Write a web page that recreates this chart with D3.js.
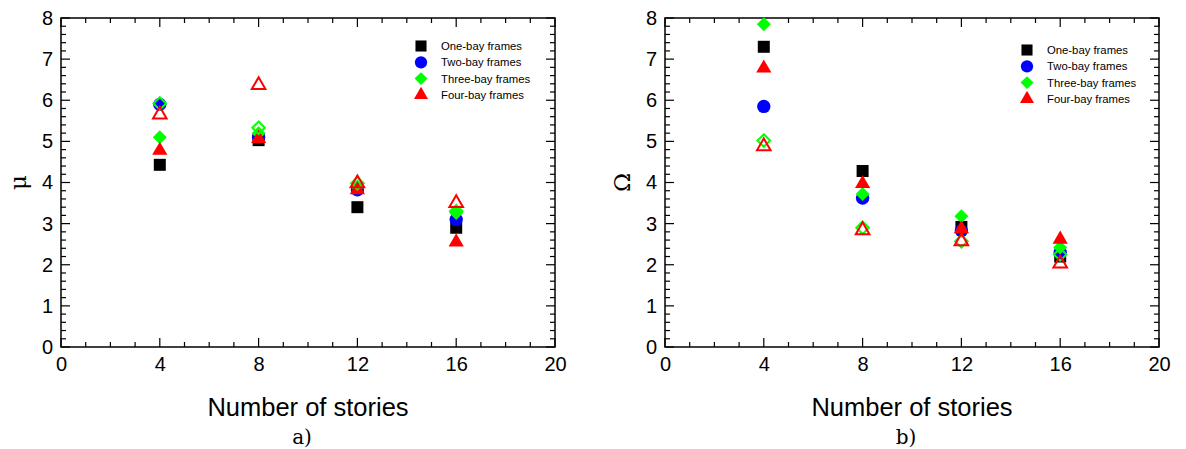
<!DOCTYPE html>
<html>
<head>
<meta charset="utf-8">
<script src="https://cdn.jsdelivr.net/npm/d3@7"></script>
<style>
  body { margin: 0; background: #fff; }
  svg { display: block; font-family: "Liberation Sans", Arial, sans-serif; }
</style>
</head>
<body>
<svg id="chart" width="1186" height="449"></svg>
<script>
// *************** DATA ***************
const stories = [4, 8, 12, 16];
const seriesNames = ["One-bay frames", "Two-bay frames", "Three-bay frames", "Four-bay frames"];
const xTicks = [0, 4, 8, 12, 16, 20];
const yTicks = [0, 1, 2, 3, 4, 5, 6, 7, 8];

// panel a) ductility factor mu
const muOneBay   = [4.43, 5.03, 3.40, 2.90];
const muTwoBay   = [5.90, 5.10, 3.82, 3.10];
const muThreeBay = [5.10, 5.20, 3.90, 3.26];
const muFourBay  = [4.78, 5.07, 3.82, 2.55];
const muThreeBayOpen = [5.92, 5.33, 3.98, 3.30];
const muFourBayOpen  = [5.65, 6.37, 3.98, 3.50];

// panel b) overstrength factor Omega
const omOneBay   = [7.30, 4.28, 2.92, 2.20];
const omTwoBay   = [5.85, 3.62, 2.83, 2.30];
const omThreeBay = [7.85, 3.72, 3.18, 2.42];
const omFourBay  = [6.78, 3.97, 2.87, 2.62];
const omThreeBayOpen = [5.02, 2.90, 2.57, 2.25];
const omFourBayOpen  = [4.88, 2.84, 2.57, 2.03];

// *************** STYLE ***************
const markers = [
  { type: d3.symbolSquare,   size: 144, color: "#000000" },
  { type: d3.symbolCircle,   size: 140, color: "#0000ff" },
  { type: d3.symbolDiamond2, size: 125, color: "#00ff00" },
  { type: d3.symbolTriangle, size: 100, color: "#ff0000" }
];

const svg = d3.select("#chart");

const panels = [
  { left: 61,  yLabel: "μ", tag: "a)", legendX: 421, legendY: 46,
    filled: [muOneBay, muTwoBay, muThreeBay, muFourBay],
    open: [[2, muThreeBayOpen], [3, muFourBayOpen]] },
  { left: 665, yLabel: "Ω", tag: "b)", legendX: 1027, legendY: 50,
    filled: [omOneBay, omTwoBay, omThreeBay, omFourBay],
    open: [[2, omThreeBayOpen], [3, omFourBayOpen]] }
];

const plotW = 494, plotTop = 18, plotBottom = 347;

panels.forEach(p => {
  const g = svg.append("g");
  const x = d3.scaleLinear().domain([0, 20]).range([p.left, p.left + plotW]);
  const y = d3.scaleLinear().domain([0, 8]).range([plotBottom, plotTop]);

  // minor + major ticks, all four sides, inward
  const minorX = d3.range(0, 21, 1), minorY = d3.range(0, 8.01, 0.2);
  const tickG = g.append("g").attr("stroke", "#000").attr("stroke-width", 1.2);
  minorX.forEach(v => {
    const len = v % 4 === 0 ? 9 : 5;
    tickG.append("line").attr("x1", x(v)).attr("x2", x(v)).attr("y1", plotBottom).attr("y2", plotBottom - len);
    tickG.append("line").attr("x1", x(v)).attr("x2", x(v)).attr("y1", plotTop).attr("y2", plotTop + len);
  });
  minorY.forEach(v => {
    const len = Math.abs(v - Math.round(v)) < 1e-6 ? 9 : 5;
    tickG.append("line").attr("x1", p.left).attr("x2", p.left + len).attr("y1", y(v)).attr("y2", y(v));
    tickG.append("line").attr("x1", p.left + plotW).attr("x2", p.left + plotW - len).attr("y1", y(v)).attr("y2", y(v));
  });

  // frame
  g.append("rect")
   .attr("x", p.left).attr("y", plotTop)
   .attr("width", plotW).attr("height", plotBottom - plotTop)
   .attr("fill", "none").attr("stroke", "#000").attr("stroke-width", 1.5);

  // tick labels through axes (lines hidden)
  const xAxis = g.append("g")
    .attr("transform", `translate(0,${plotBottom})`)
    .call(d3.axisBottom(x).tickValues(xTicks).tickSize(0).tickPadding(10));
  xAxis.select(".domain").remove();
  xAxis.selectAll("text").attr("font-size", 20).attr("font-family", "Liberation Sans, Arial, sans-serif");

  const yAxis = g.append("g")
    .attr("transform", `translate(${p.left},0)`)
    .call(d3.axisLeft(y).tickValues(yTicks).tickSize(0).tickPadding(8));
  yAxis.select(".domain").remove();
  yAxis.selectAll("text").attr("font-size", 20).attr("font-family", "Liberation Sans, Arial, sans-serif");

  // axis titles
  g.append("text")
   .attr("x", x(10)).attr("y", 416)
   .attr("text-anchor", "middle")
   .attr("font-size", 25.5)
   .text("Number of stories");

  g.append("text")
   .attr("transform", `translate(${p.left - 43},${y(4)}) rotate(-90)`)
   .attr("text-anchor", "middle")
   .attr("dy", "0.35em")
   .attr("font-size", 23)
   .attr("font-family", "DejaVu Serif, serif")
   .text(p.yLabel);

  g.append("text")
   .attr("x", x(10) - 6).attr("y", 444)
   .attr("text-anchor", "middle")
   .attr("font-size", 20)
   .attr("font-family", "DejaVu Serif, serif")
   .text(p.tag);

  // filled markers
  p.filled.forEach((vals, i) => {
    const m = markers[i];
    g.append("g").selectAll("path")
     .data(vals)
     .join("path")
     .attr("transform", (d, k) => `translate(${x(stories[k])},${y(d)})`)
     .attr("d", d3.symbol().type(m.type).size(m.size))
     .attr("fill", m.color);
  });

  // open markers
  p.open.forEach(([i, vals]) => {
    const m = markers[i];
    g.append("g").selectAll("path")
     .data(vals)
     .join("path")
     .attr("transform", (d, k) => `translate(${x(stories[k])},${y(d)})`)
     .attr("d", d3.symbol().type(m.type).size(m.size * 0.8))
     .attr("fill", "none")
     .attr("stroke", m.color)
     .attr("stroke-width", 2);
  });

  // legend
  const lg = g.append("g");
  seriesNames.forEach((name, i) => {
    const m = markers[i];
    const ly = p.legendY + i * 16.3;
    lg.append("path")
      .attr("transform", `translate(${p.legendX},${ly})`)
      .attr("d", d3.symbol().type(m.type).size(m.size * 0.85))
      .attr("fill", m.color);
    lg.append("text")
      .attr("x", p.legendX + 20).attr("y", ly)
      .attr("dy", "0.35em")
      .attr("font-size", 11.3)
      .text(name);
  });
});
</script>
</body>
</html>
